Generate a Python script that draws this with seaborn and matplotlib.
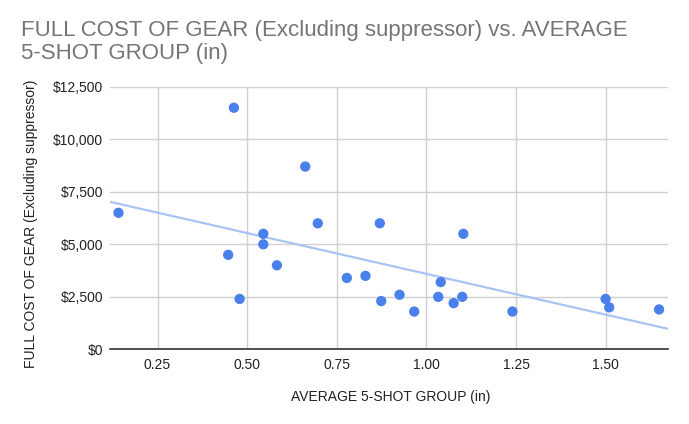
import matplotlib
matplotlib.use("Agg")
import matplotlib.pyplot as plt
import matplotlib.ticker as mticker
import pandas as pd
import seaborn as sb

# group size (in) vs full cost of gear ($)
group_in = [0.141, 0.463, 0.662, 0.697, 0.545, 0.545, 0.447, 0.583, 0.479, 0.778,
            0.830, 0.870, 0.874, 0.925, 0.966, 1.033, 1.040, 1.076, 1.100, 1.103,
            1.240, 1.500, 1.510, 1.649]
cost_usd = [6500, 11500, 8700, 6000, 5500, 5000, 4500, 4000, 2400, 3400,
            3500, 6000, 2300, 2600, 1800, 2500, 3200, 2200, 2500, 5500,
            1800, 2400, 2000, 1900]

x_ticks = [0.25, 0.50, 0.75, 1.00, 1.25, 1.50]
y_ticks = [0, 2500, 5000, 7500, 10000, 12500]

title_lines = ["FULL COST OF GEAR (Excluding suppressor) vs. AVERAGE", "5-SHOT GROUP (in)"]

df = pd.DataFrame({"group": group_in, "cost": cost_usd})

sb.set_style("white")
plt.rcParams["font.family"] = ["Liberation Sans", "DejaVu Sans"]

fig = plt.figure(figsize=(6.89, 4.24), dpi=100)
ax = fig.add_axes([0.160, 0.176, 0.809, 0.6195])
ax.set_xlim(0.118, 1.673)
ax.set_ylim(0, 12500)

sb.regplot(x="group", y="cost", data=df, ax=ax, ci=None, truncate=False,
           scatter_kws={"s": 55, "color": "#4a80ec", "edgecolor": "none", "alpha": 1, "zorder": 4},
           line_kws={"color": "#a9c3f2", "linewidth": 1.6, "zorder": 3})

ax.set_xticks(x_ticks)
ax.set_yticks(y_ticks)
ax.xaxis.set_major_formatter(mticker.FormatStrFormatter("%.2f"))
ax.yaxis.set_major_formatter(mticker.FuncFormatter(lambda v, p: "${:,.0f}".format(v)))
ax.grid(True, color="#d0d0d0", linewidth=1)
ax.set_axisbelow(True)
for s in ["top", "right", "left"]:
    ax.spines[s].set_visible(False)
ax.spines["bottom"].set_color("#333333")
ax.spines["bottom"].set_linewidth(1.2)
ax.spines["bottom"].set_zorder(5)
ax.tick_params(axis="both", length=0, labelsize=10, colors="#222222")
ax.tick_params(axis="x", pad=6)
ax.tick_params(axis="y", pad=5)

ax.set_xlabel("AVERAGE 5-SHOT GROUP (in)", fontsize=10, color="#222222")
ax.xaxis.label.set_va("baseline")
ax.xaxis.set_label_coords(0.503, -0.196)
ax.set_ylabel("FULL COST OF GEAR (Excluding suppressor)", fontsize=10, color="#222222")
ax.yaxis.label.set_va("center")
ax.yaxis.set_label_coords(-0.1417, 0.477)

fig.text(0.030, 0.914, title_lines[0], fontsize=16, color="#757575", va="baseline", ha="left")
fig.text(0.030, 0.862, title_lines[1], fontsize=16, color="#757575", va="baseline", ha="left")

fig.savefig("out.png", dpi=100)
